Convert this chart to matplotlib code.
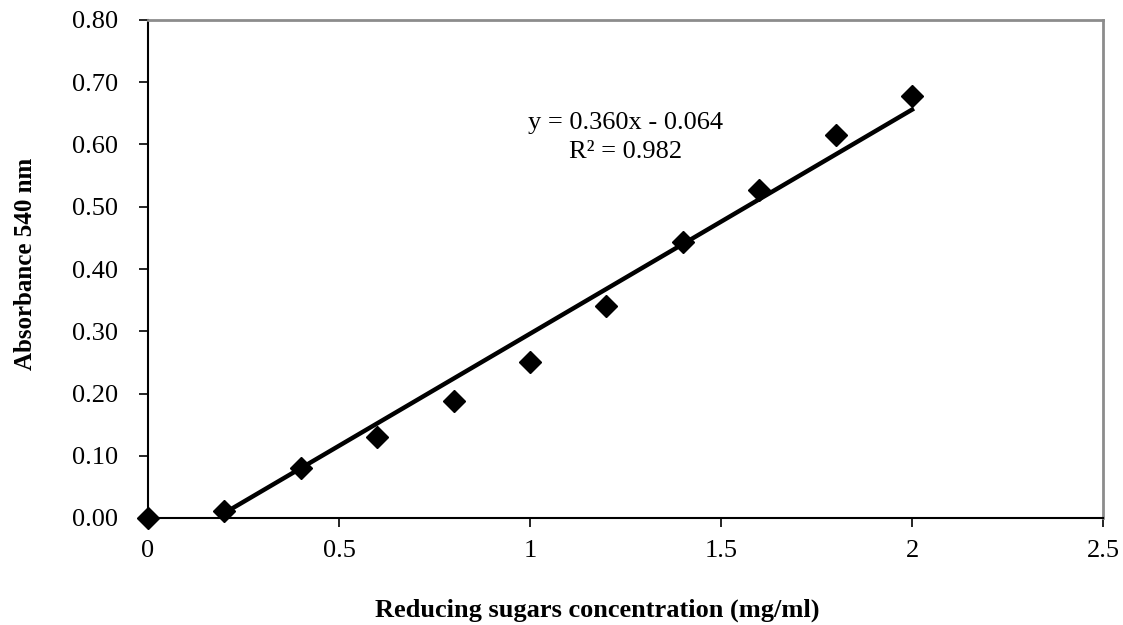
import numpy as np
import matplotlib
matplotlib.use("Agg")
from matplotlib import pyplot as plt

plt.rcParams['font.family'] = ['Liberation Serif', 'DejaVu Serif']

conc = [0, 0.2, 0.4, 0.6, 0.8, 1.0, 1.2, 1.4, 1.6, 1.8, 2.0]
absorb = [0.0, 0.011, 0.081, 0.130, 0.188, 0.250, 0.341, 0.443, 0.527, 0.616, 0.678]
slope = 0.360
intercept = -0.064
r2 = 0.982
fit_range = [0.2, 2.0]

fig = plt.figure(figsize=(11.23, 6.25), dpi=100)
ax = fig.add_axes([0.1318, 0.1712, 0.9822 - 0.1318, 0.968 - 0.1712])

fx = np.array(fit_range)
ax.plot(fx, slope * fx + intercept, color='black', linewidth=3.2, zorder=2)
ax.plot(conc, absorb, linestyle='none', marker='D', markersize=11,
        color='black', clip_on=False, zorder=3)

ax.set_xlim(0, 2.5)
ax.set_ylim(0, 0.8)
ax.set_xticks([0, 0.5, 1, 1.5, 2, 2.5])
ax.set_xticklabels(['0', '0.5', '1', '1.5', '2', '2.5'])
ax.set_yticks(np.arange(0, 0.81, 0.1))
ax.set_yticklabels(['%.2f' % v for v in np.arange(0, 0.81, 0.1)])
ax.tick_params(direction='out', length=6.5, width=1.2, labelsize=19, colors='black')
ax.tick_params(axis='y', pad=15)
ax.tick_params(axis='x', pad=9)

for s in ['top', 'right']:
    ax.spines[s].set_color('#8c8c8c')
    ax.spines[s].set_linewidth(2)
for s in ['left', 'bottom']:
    ax.spines[s].set_color('black')
    ax.spines[s].set_linewidth(1.5)

fig.text(597.5 / 1123, 1 - 610 / 625, "Reducing sugars concentration (mg/ml)",
         fontsize=19, fontweight='bold', ha='center', va='center')
fig.text(26 / 1123, 1 - 264 / 625, "Absorbance 540 nm", rotation=90,
         fontsize=18, fontweight='bold', ha='center', va='center')

ax.text(1.249, 0.611, "y = %.3fx - %.3f\nR² = %.3f" % (slope, -intercept, r2),
        fontsize=19, ha='center', va='center', linespacing=1.43)

fig.savefig("out.png", dpi=100)
